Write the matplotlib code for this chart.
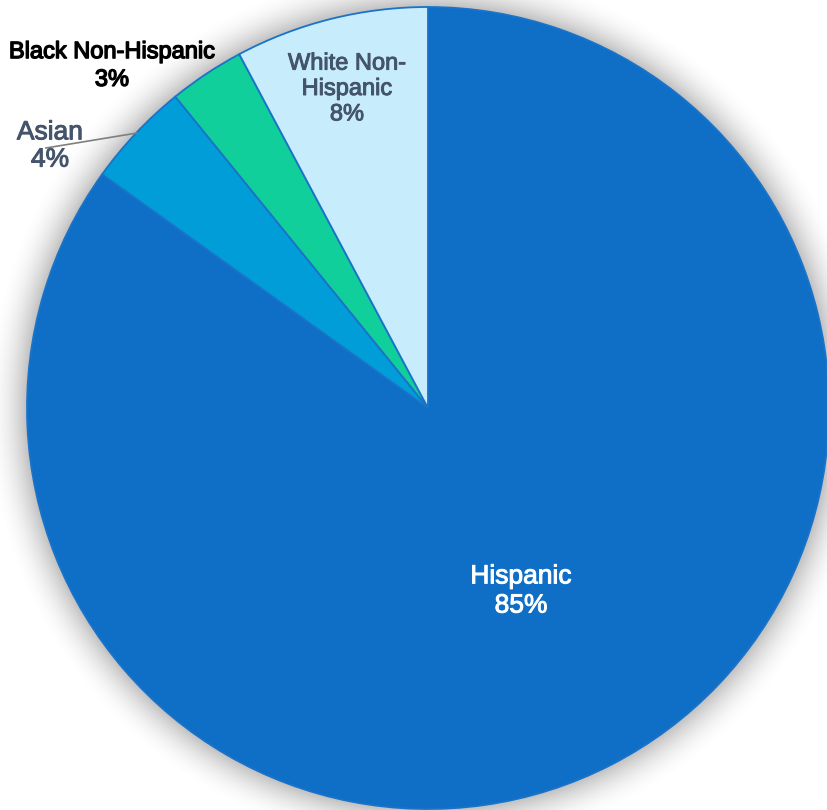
import numpy as np
import matplotlib
matplotlib.use("Agg")
import matplotlib.pyplot as plt
import matplotlib.patheffects as pe

categories = ["Hispanic", "Asian", "Black Non-Hispanic", "White Non-Hispanic"]
values = [84.9, 4.25, 3.05, 7.8]
colors = ["#0F6FC6", "#009DD9", "#10CF9B", "#C7ECFC"]

plt.rcParams['font.family'] = ['Liberation Sans', 'DejaVu Sans']

W, H = 828, 810
fig = plt.figure(figsize=(W / 100, H / 100), dpi=100)

# shadow background
cx, cy, R = 428, 408, 401
bg = fig.add_axes([0, 0, 1, 1])
yy, xx = np.mgrid[0:H, 0:W]
d = np.hypot(xx + 0.5 - cx, yy + 0.5 - cy) - R
a = np.clip(1 - d / 42.0, 0, 1) ** 2 * 0.42
a[d < 0] = 0.42
img = np.zeros((H, W, 4))
img[..., 0] = img[..., 1] = img[..., 2] = 0.4
img[..., 3] = a
bg.imshow(img, extent=[0, W, H, 0], interpolation="bilinear")
bg.set_xlim(0, W)
bg.set_ylim(H, 0)
bg.axis("off")

ax = fig.add_axes([(cx - R) / W, (H - cy - R) / H, 2 * R / W, 2 * R / H])
wedges, _ = ax.pie(values, colors=colors, startangle=90, counterclock=False,
                   radius=1.0,
                   wedgeprops=dict(edgecolor="#1A73C9", linewidth=1.3))
ax.set_xlim(-1, 1)
ax.set_ylim(-1, 1)
ax.axis("off")

total = sum(values)
pct = [f"{round(v / total * 100):.0f}%" for v in values]


def P(px, py):
    return ((px - cx) / R, (cy - py) / R)


def bold(c, w=0.7):
    return [pe.withStroke(linewidth=w, foreground=c)]


ax.text(*P(521, 591), f"Hispanic\n{pct[0]}", color="white", fontsize=19,
        ha="center", va="center", linespacing=1.27, path_effects=bold("white"))
ax.text(*P(50, 146), f"Asian\n{pct[1]}", color="#44546A", fontsize=19,
        ha="center", va="center", linespacing=1.17, path_effects=bold("#44546A"))
ax.text(*P(112, 66), f"Black Non-Hispanic\n{pct[2]}", color="black", fontsize=17,
        ha="center", va="center", linespacing=1.34, path_effects=bold("black", 1.0))
ax.text(*P(347, 89), f"White Non-\nHispanic\n{pct[3]}", color="#44546A", fontsize=17,
        ha="center", va="center", linespacing=1.2, path_effects=bold("#44546A"))
x0, y0 = P(46, 148)
x1, y1 = P(137, 133)
ax.plot([x0, x1], [y0, y1], color="#7F7F7F", lw=1.2)

fig.savefig("out.png", dpi=100)
